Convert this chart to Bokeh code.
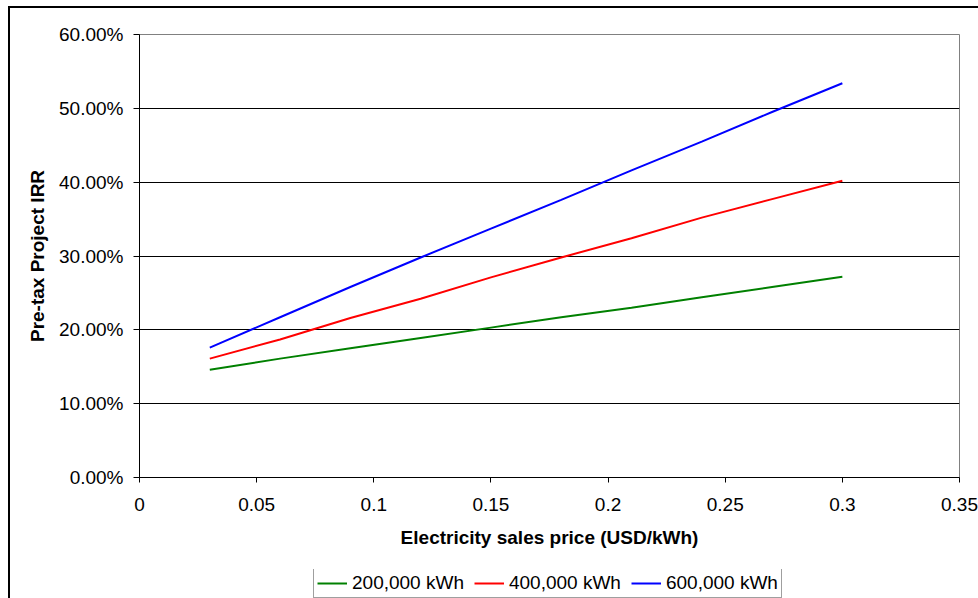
from bokeh.plotting import figure
from bokeh.layouts import column
from bokeh.models import FixedTicker, Legend, LegendItem, Range1d
from bokeh.embed import file_html
from bokeh.resources import INLINE

price = [0.03, 0.06, 0.09, 0.12, 0.15, 0.18, 0.21, 0.24, 0.27, 0.30]
irr_200k = [14.6, 16.1, 17.5, 18.9, 20.3, 21.7, 23.0, 24.4, 25.8, 27.2]
irr_400k = [16.1, 18.7, 21.6, 24.2, 27.1, 29.8, 32.4, 35.2, 37.7, 40.2]
irr_600k = [17.6, 21.7, 25.8, 29.8, 33.7, 37.6, 41.6, 45.5, 49.5, 53.4]
series_names = ["200,000 kWh", "400,000 kWh", "600,000 kWh"]
series_colors = ["green", "red", "blue"]
x_ticks = [0, 0.05, 0.1, 0.15, 0.2, 0.25, 0.3, 0.35]
x_tick_labels = ["0", "0.05", "0.1", "0.15", "0.2", "0.25", "0.3", "0.35"]
y_ticks = [0, 10, 20, 30, 40, 50, 60]
y_tick_labels = ["0.00%", "10.00%", "20.00%", "30.00%", "40.00%", "50.00%", "60.00%"]

FONT = "Liberation Sans"
series = [irr_200k, irr_400k, irr_600k]

p = figure(width=968, height=561, output_backend="svg", toolbar_location=None,
           x_range=Range1d(0, 0.35), y_range=Range1d(0, 60),
           min_border_left=129, min_border_right=19, min_border_top=26, min_border_bottom=92)

p.outline_line_color = "#808080"
p.outline_line_width = 1
p.xgrid.grid_line_color = None
p.ygrid.grid_line_color = "black"
p.ygrid.grid_line_width = 1
p.ygrid.ticker = FixedTicker(ticks=y_ticks)

p.xaxis.ticker = FixedTicker(ticks=x_ticks)
p.xaxis.major_label_overrides = {t: l for t, l in zip(x_ticks, x_tick_labels)}
p.yaxis.ticker = FixedTicker(ticks=y_ticks)
p.yaxis.major_label_overrides = {t: l for t, l in zip(y_ticks, y_tick_labels)}

for ax in (p.xaxis, p.yaxis):
    ax.axis_line_color = "black"
    ax.major_tick_line_color = "black"
    ax.minor_tick_line_color = None
    ax.major_tick_in = 0
    ax.major_label_text_font = FONT
    ax.major_label_text_font_size = "19px"
    ax.major_label_text_color = "black"
    ax.axis_label_text_font = FONT
    ax.axis_label_text_font_size = "19px"
    ax.axis_label_text_font_style = "bold"
    ax.axis_label_text_color = "black"

p.xaxis.major_tick_out = 5
p.yaxis.major_tick_out = 6
p.xaxis.major_label_standoff = 15
p.yaxis.major_label_standoff = 10
p.xaxis.axis_label = "Electricity sales price (USD/kWh)"
p.yaxis.axis_label = "Pre-tax Project IRR"
p.xaxis.axis_label_standoff = 13
p.yaxis.axis_label_standoff = 8

for vals, col in zip(series, series_colors):
    p.line(price, vals, line_color=col, line_width=2)

# legend strip below the chart (its own small figure)
lg = figure(width=968, height=29, output_backend="svg", toolbar_location=None,
            x_range=Range1d(10, 11), y_range=Range1d(10, 11),
            x_axis_location=None, y_axis_location=None,
            min_border_left=0, min_border_right=0, min_border_top=0, min_border_bottom=0)
lg.outline_line_color = None
lg.xgrid.grid_line_color = None
lg.ygrid.grid_line_color = None
items = []
for name, vals, col in zip(series_names, series, series_colors):
    r = lg.line(price, vals, line_color=col, line_width=2)
    items.append(LegendItem(label=name, renderers=[r]))

legend = Legend(items=items, orientation="horizontal", location=(174, 0),
                label_text_font=FONT, label_text_font_size="19px",
                label_text_color="black",
                border_line_color="#404040", border_line_width=1,
                glyph_width=30, glyph_height=14, label_standoff=5, spacing=10,
                padding=3, margin=0, label_height=18)
lg.add_layout(legend, "center")

layout = column(p, lg, spacing=0,
                styles={"margin-left": "8px", "margin-top": "6px",
                        "border-left": "2px solid black", "border-top": "2px solid black"})

open("out.html", "w").write(file_html(layout, INLINE))
